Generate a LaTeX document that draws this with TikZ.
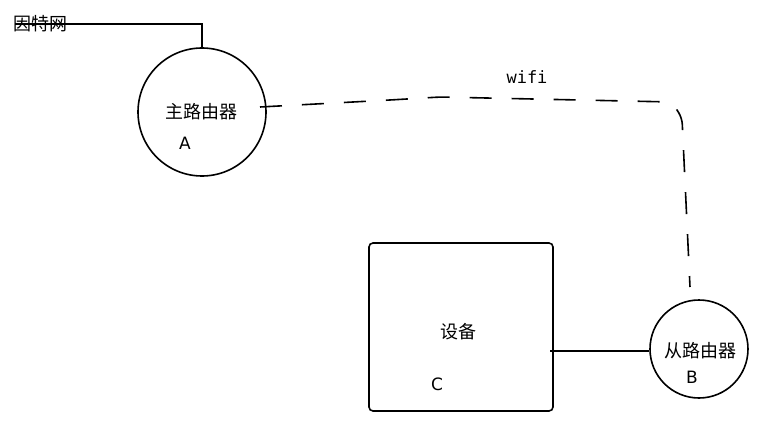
\documentclass[tikz,border=0pt]{standalone}
\usepackage{fontspec}
\setmainfont{DejaVu Sans}
\setmonofont{DejaVu Sans Mono}
\newfontfamily\cjk{Noto Sans CJK SC}
\usetikzlibrary{positioning}

\begin{document}
\begin{tikzpicture}[
    x=1pt,y=-1pt,
    font=\fontsize{17}{19}\selectfont,
    router/.style={draw=black,line width=1.6pt,circle,inner sep=0pt},
    devbox/.style={draw=black,line width=1.6pt,rounded corners=4pt,inner sep=0pt,
      minimum width=184pt,minimum height=168pt},
    lbl/.style={inner sep=0pt,font=\cjk\fontsize{18}{20}\selectfont},
    tag/.style={inner sep=0pt},
    wire/.style={line width=1.6pt,draw=black},
    wifi/.style={line width=1.6pt,draw=black,dash pattern=on 22pt off 20pt,rounded corners=6pt}
  ]
  \useasboundingbox (0,0) rectangle (772,436);
  % internet feed
  \node[lbl] (inet) at (40,24) {因特网};
  \coordinate (inetend) at (15,24);
  % main router A
  \node[router,minimum size=128pt] (routerA) at (202,112) {};
  \node[lbl] (routerAtxt) at (201,112) {主路由器};
  \node[tag] (routerAtag) at (185,143) {A};
  % device C
  \node[devbox] (dev) at (461,327) {};
  \node[lbl] (devtxt) at (458,332) {设备};
  \node[tag] (devtag) at (437,384) {C};
  % secondary router B
  \node[router,minimum size=98pt] (routerB) at (699,349) {};
  \node[lbl] (routerBtxt) at (700,351) {从路由器};
  \node[tag] (routerBtag) at (692,377) {B};
  % wifi link
  \node[inner sep=0pt,font=\ttfamily\fontsize{17}{19}\selectfont] (wifitxt) at (527,77) {wifi};
  \coordinate (wstart) at (260,107);
  \coordinate (wend) at (690,287);
  \coordinate (dstart) at (550,351);

  \draw[wire] (inetend) -| (routerA.north);
  \draw[wifi] (wstart) -- (390,100) -- (440,97) -- (672,102) -- (682,118) -- (wend);
  \draw[wire] (dstart) -- (routerB.west |- dstart);
\end{tikzpicture}
\end{document}
